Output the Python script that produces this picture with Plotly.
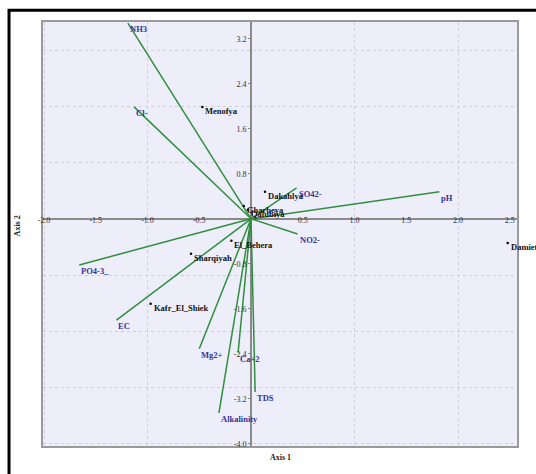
import plotly.graph_objects as go

# Variable vectors (biplot arrows)
var_names = ["NH3", "Cl-", "SO42-", "pH", "NO2-", "PO4-3_", "EC", "Mg2+", "Ca+2", "TDS", "Alkalinity"]
var_x = [-1.19, -1.13, 0.44, 1.82, 0.45, -1.66, -1.30, -0.50, -0.125, 0.04, -0.31]
var_y = [3.48, 1.99, 0.55, 0.48, -0.27, -0.82, -1.80, -2.31, -2.38, -3.08, -3.45]

# Site scores
site_names = ["Menofya", "Dakahlya", "Gharbeya", "Qalubiya", "El_Behera", "Sharqiyah", "Kafr_El_Shiek", "Damietta"]
site_x = [-0.47, 0.135, -0.07, -0.03, -0.19, -0.58, -0.97, 2.48]
site_y = [1.99, 0.48, 0.23, 0.16, -0.39, -0.62, -1.51, -0.43]

x_ticks = [-2.0, -1.5, -1.0, -0.5, 0.5, 1.0, 1.5, 2.0, 2.5]
y_ticks = [3.2, 2.4, 1.6, 0.8, -0.8, -1.6, -2.4, -3.2, -4.0]

x_range = [-2.01, 2.57]
y_range = [-4.04, 3.5]

FONT = "Liberation Serif"
BLUE = "#33339a"
GREEN = "#2f8f3f"

fig = go.Figure()

# arrows from origin
lx, ly = [], []
for vx, vy in zip(var_x, var_y):
    lx += [0, vx, None]
    ly += [0, vy, None]
fig.add_trace(go.Scatter(x=lx, y=ly, mode="lines", line=dict(color=GREEN, width=1.5),
                         hoverinfo="skip", showlegend=False))

# site points
fig.add_trace(go.Scatter(x=site_x, y=site_y, mode="markers",
                         marker=dict(color="black", size=2.5), showlegend=False))

# invisible trace on secondary axes (tick label axes crossing at origin)
fig.add_trace(go.Scatter(x=[None], y=[None], xaxis="x2", yaxis="y2", showlegend=False))

for n, vx, vy in zip(var_names, var_x, var_y):
    fig.add_annotation(x=vx, y=vy, text="<b>%s</b>" % n, showarrow=False,
                       xanchor="left", yanchor="middle", yshift=-6, xshift=0,
                       font=dict(family=FONT, size=8.5, color=BLUE))
for n, sx, sy in zip(site_names, site_x, site_y):
    fig.add_annotation(x=sx, y=sy, text="<b>%s</b>" % n, showarrow=False,
                       xanchor="left", yanchor="middle", yshift=-4, xshift=1,
                       font=dict(family=FONT, size=8.5, color="#111111"))

# axis titles
fig.add_annotation(x=0.5, y=-0.026, xref="paper", yref="paper", text="<b>Axis 1</b>",
                   showarrow=False, xanchor="center", yanchor="middle",
                   font=dict(family=FONT, size=8, color="#222222"))
fig.add_annotation(x=-0.053, y=0.52, xref="paper", yref="paper", text="<b>Axis 2</b>",
                   showarrow=False, textangle=-90, xanchor="center", yanchor="middle",
                   font=dict(family=FONT, size=8, color="#222222"))

# outer frame
fig.add_shape(type="rect", xref="paper", yref="paper", x0=-0.0717, y0=-0.09, x1=1.06, y1=1.028,
              line=dict(color="black", width=3), fillcolor="rgba(0,0,0,0)", layer="above")

ypos = (0 - x_range[0]) / (x_range[1] - x_range[0])
xlab_pos = (0.09 - y_range[0]) / (y_range[1] - y_range[0])

fig.update_layout(
    width=536, height=474,
    margin=dict(l=43, r=19, t=22, b=28),
    paper_bgcolor="white",
    plot_bgcolor="#eeeefb",
    showlegend=False,
    xaxis=dict(range=x_range, dtick=1, tick0=0, showticklabels=False, ticks="",
               showgrid=True, gridcolor="#cfcfd8", griddash="dot", gridwidth=1,
               zeroline=True, zerolinecolor="#8a8a8a", zerolinewidth=1.5,
               showline=True, mirror=True, linecolor="#9a9a9a", linewidth=1.5),
    yaxis=dict(range=y_range, dtick=1, tick0=0, showticklabels=False, ticks="",
               showgrid=True, gridcolor="#cfcfd8", griddash="dot", gridwidth=1,
               zeroline=True, zerolinecolor="#8a8a8a", zerolinewidth=1.5,
               showline=True, mirror=True, linecolor="#9a9a9a", linewidth=1.5),
    xaxis2=dict(range=x_range, overlaying="x", anchor="free", position=xlab_pos, side="bottom",
                tickvals=x_ticks, ticktext=["%.1f" % v for v in x_ticks],
                ticks="", showgrid=False, zeroline=False, showline=False,
                tickfont=dict(family=FONT, size=8, color="#333333")),
    yaxis2=dict(range=y_range, overlaying="y", anchor="free", position=ypos, side="left",
                tickvals=y_ticks, ticktext=["%.1f" % v for v in y_ticks],
                ticks="outside", ticklen=3, tickcolor="#8a8a8a", showgrid=False,
                zeroline=False, showline=False,
                tickfont=dict(family=FONT, size=8, color="#333333")),
)

fig.write_html("out.html", config={"displayModeBar": False},
               post_script="document.body.style.margin='0px';document.body.style.overflow='hidden';")
